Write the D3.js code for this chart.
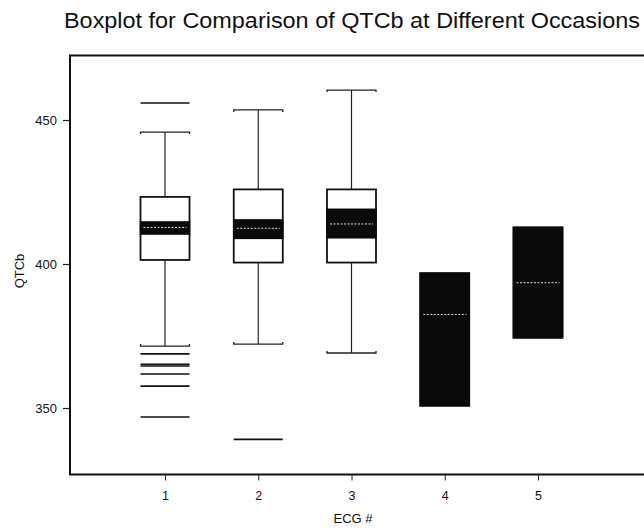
<!DOCTYPE html>
<html><head><meta charset="utf-8">
<script src="https://cdn.jsdelivr.net/npm/d3@7"></script>
<style>body{margin:0;background:#fff}svg{display:block}</style></head>
<body><svg id="chart" width="644" height="530"></svg>
<script>
// QTCb (ms) summary per ECG occasion
const occasions = ["1", "2", "3", "4", "5"];
const q1 = [401.4, 400.5, 400.5, 350.8, 374.4];
const q3 = [423.3, 425.9, 425.9, 396.8, 412.7];
const median = [412.7, 412.4, 413.9, 382.5, 393.5];
const notchLow = [410.4, 408.9, 409.1, 350.8, 374.4];
const notchHigh = [414.6, 415.3, 419.0, 396.8, 412.7];
const whiskerLow = [371.5, 372.2, 369.1, 350.8, 374.4];
const whiskerHigh = [445.8, 453.5, 460.4, 396.8, 412.7];
const outliers = [[455.9, 368.8, 365.2, 364.6, 361.8, 357.6, 346.9], [339.1], [], [], []];
const yTicks = [350, 400, 450];

const svg = d3.select("#chart");
const font = "'Liberation Sans', Arial, sans-serif";

const x = d3.scaleLinear().domain([0, 6]).range([71.75, 631.25]);
const y = d3.scaleLinear().domain([350, 450]).range([408, 120]);
const boxW = 49;
const frame = { left: 70, top: 55.5, bottom: 474.5, right: 644 };

const data = occasions.map((k, i) => ({
  k, pos: i + 1, q1: q1[i], q3: q3[i], med: median[i],
  nLo: notchLow[i], nHi: notchHigh[i], wLo: whiskerLow[i], wHi: whiskerHigh[i],
  out: outliers[i]
}));

// title
svg.append("text").attr("x", 64).attr("y", 28)
  .attr("font-family", font).attr("font-size", 22).attr("fill", "#111")
  .attr("textLength", 576).attr("lengthAdjust", "spacingAndGlyphs")
  .text("Boxplot for Comparison of QTCb at Different Occasions");

// frame (left, top, bottom)
svg.append("path")
  .attr("d", `M${frame.right},${frame.top}H${frame.left}V${frame.bottom}H${frame.right}`)
  .attr("fill", "none").attr("stroke", "#111").attr("stroke-width", 2);

// axes
const xAxis = d3.axisBottom(x).tickValues(data.map(d => d.pos))
  .tickFormat((d, i) => occasions[i]).tickSize(6).tickPadding(11);
const gx = svg.append("g").attr("transform", `translate(0,${frame.bottom})`).call(xAxis);
gx.select(".domain").remove();
gx.selectAll("line").attr("stroke", "#222").attr("stroke-width", 1);
gx.selectAll("text").attr("font-family", font).attr("font-size", 12.5).attr("fill", "#111");

const yAxis = d3.axisLeft(y).tickValues(yTicks).tickSize(7).tickPadding(6);
const gy = svg.append("g").attr("transform", `translate(${frame.left},0)`).call(yAxis);
gy.select(".domain").remove();
gy.selectAll("line").attr("stroke", "#222").attr("stroke-width", 1.2);
gy.selectAll("text").attr("font-family", font).attr("font-size", 13).attr("fill", "#111");

svg.append("text").attr("x", 353).attr("y", 523).attr("text-anchor", "middle")
  .attr("font-family", font).attr("font-size", 13).attr("fill", "#111").text("ECG #");
svg.append("text").attr("transform", "translate(24,271) rotate(-90)").attr("text-anchor", "middle")
  .attr("font-family", font).attr("font-size", 13).attr("fill", "#111").text("QTCb");

// boxes
const g = svg.append("g").selectAll("g").data(data).join("g");

// whiskers
g.filter(d => d.wHi > d.q3).append("line")
  .attr("x1", d => x(d.pos)).attr("x2", d => x(d.pos))
  .attr("y1", d => y(d.q3)).attr("y2", d => y(d.wHi))
  .attr("stroke", "#222").attr("stroke-width", 1.2);
g.filter(d => d.wLo < d.q1).append("line")
  .attr("x1", d => x(d.pos)).attr("x2", d => x(d.pos))
  .attr("y1", d => y(d.q1)).attr("y2", d => y(d.wLo))
  .attr("stroke", "#222").attr("stroke-width", 1.2);
// whisker caps with small end hooks
g.filter(d => d.wHi > d.q3).append("path")
  .attr("d", d => { const a = x(d.pos) - boxW / 2, b = x(d.pos) + boxW / 2, yy = y(d.wHi);
    return `M${a},${yy + 2}V${yy}H${b}V${yy + 2}`; })
  .attr("fill", "none").attr("stroke", "#222").attr("stroke-width", 1.3);
g.filter(d => d.wLo < d.q1).append("path")
  .attr("d", d => { const a = x(d.pos) - boxW / 2, b = x(d.pos) + boxW / 2, yy = y(d.wLo);
    return `M${a},${yy - 2}V${yy}H${b}V${yy - 2}`; })
  .attr("fill", "none").attr("stroke", "#222").attr("stroke-width", 1.3);

// box body
g.append("rect")
  .attr("x", d => x(d.pos) - boxW / 2).attr("width", boxW)
  .attr("y", d => y(d.q3)).attr("height", d => y(d.q1) - y(d.q3))
  .attr("fill", "#fff").attr("stroke", "#111").attr("stroke-width", 1.8);

// median confidence band
g.append("rect")
  .attr("x", d => x(d.pos) - boxW / 2).attr("width", boxW)
  .attr("y", d => y(d.nHi)).attr("height", d => y(d.nLo) - y(d.nHi))
  .attr("fill", "#0a0a0a").attr("stroke", "#0a0a0a").attr("stroke-width", 1.5);

// median line
g.append("line")
  .attr("x1", d => x(d.pos) - boxW / 2 + 3).attr("x2", d => x(d.pos) + boxW / 2 - 3)
  .attr("y1", d => y(d.med)).attr("y2", d => y(d.med))
  .attr("stroke", "#ddd").attr("stroke-width", 1).attr("stroke-dasharray", "2,1.5");

// outliers drawn as horizontal bars
g.selectAll(".out").data(d => d.out.map(v => ({ pos: d.pos, v }))).join("line")
  .attr("class", "out")
  .attr("x1", d => x(d.pos) - boxW / 2).attr("x2", d => x(d.pos) + boxW / 2)
  .attr("y1", d => y(d.v)).attr("y2", d => y(d.v))
  .attr("stroke", "#111").attr("stroke-width", 1.6);
</script>
</body></html>
